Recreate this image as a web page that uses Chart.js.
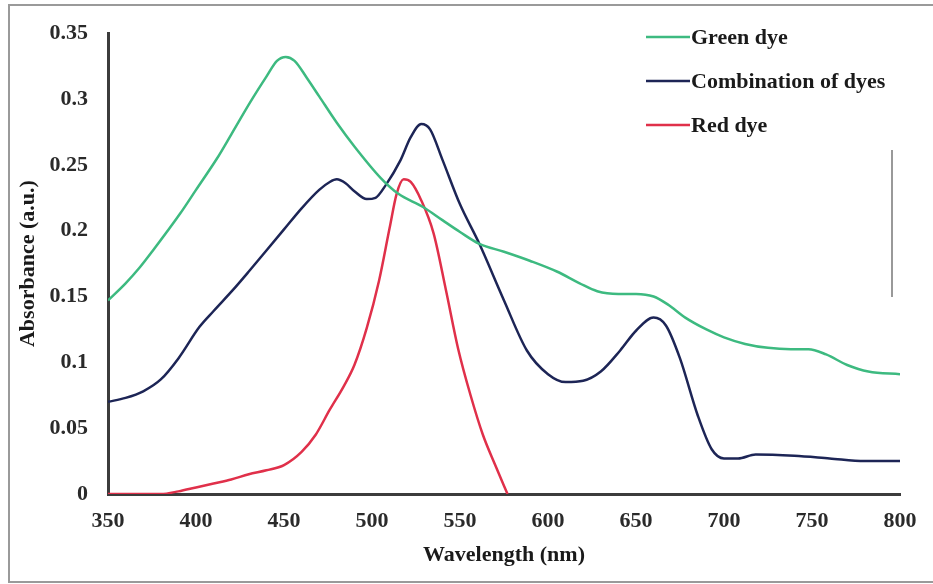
<!DOCTYPE html>
<html>
<head>
<meta charset="utf-8">
<title>Absorbance spectra</title>
<script src="https://cdn.jsdelivr.net/npm/chart.js@4.4.0/dist/chart.umd.min.js"></script>
<style>
  html, body { margin: 0; padding: 0; background: #fff; }
  #wrap { width: 933px; height: 584px; }
</style>
</head>
<body>
<div id="wrap"><canvas id="spectra" width="933" height="584"></canvas></div>
<script>
'use strict';

// values (wavelength in nm, absorbance in a.u.)
var seriesNames = ['Green dye', 'Combination of dyes', 'Red dye'];

var greenWl = [350, 360, 368, 375, 391, 400, 412, 420, 431, 440, 446, 451, 456, 463, 470, 480, 490, 505, 515, 529, 540,
  550, 561, 575, 590, 605, 618, 628, 640, 650, 660, 668, 678, 690, 700, 712, 725, 738, 748, 758, 770, 782, 800];
var greenAbs = [0.147, 0.160, 0.172, 0.184, 0.213, 0.231, 0.255, 0.273, 0.298, 0.317, 0.329, 0.332, 0.329, 0.316, 0.302, 0.282, 0.264, 0.240, 0.228, 0.218, 0.208,
  0.199, 0.190, 0.184, 0.177, 0.169, 0.160, 0.154, 0.152, 0.152, 0.150, 0.144, 0.134, 0.125, 0.119, 0.114, 0.111, 0.110, 0.110, 0.106, 0.098, 0.093, 0.091];

var comboWl = [350, 360, 370, 380, 390, 402, 410, 421, 430, 440, 450, 460, 470, 476, 480, 485, 490, 497, 502, 508, 516, 522, 528, 533, 540,
  550, 561, 575, 588, 600, 610, 620, 630, 641, 650, 660, 667, 675, 685, 693, 700, 708, 718, 740, 760, 780, 800];
var comboAbs = [0.070, 0.073, 0.078, 0.087, 0.103, 0.127, 0.139, 0.155, 0.169, 0.185, 0.201, 0.217, 0.231, 0.237, 0.239, 0.236, 0.230, 0.224, 0.225, 0.235, 0.253, 0.271, 0.281, 0.277, 0.254,
  0.220, 0.190, 0.147, 0.109, 0.091, 0.085, 0.086, 0.093, 0.109, 0.124, 0.134, 0.128, 0.103, 0.060, 0.034, 0.027, 0.027, 0.030, 0.029, 0.027, 0.025, 0.025];

var redWl = [350, 380, 390, 400, 410, 420, 430, 440, 450, 460, 468, 476, 484, 490, 497, 504, 510, 514, 518, 522, 528, 535, 542, 549, 556, 563, 570, 577];
var redAbs = [0, 0, 0.002, 0.005, 0.008, 0.011, 0.015, 0.018, 0.022, 0.032, 0.045, 0.064, 0.082, 0.098, 0.126, 0.162, 0.202, 0.228, 0.239, 0.237, 0.223, 0.198, 0.155, 0.110, 0.075, 0.045, 0.022, 0];

var xTicks = [350, 400, 450, 500, 550, 600, 650, 700, 750, 800];
var yTicks = [0, 0.05, 0.1, 0.15, 0.2, 0.25, 0.3, 0.35];

var serif = '"Liberation Serif", "Times New Roman", serif';

function toPoints(wl, abs) {
  return wl.map(function (w, i) { return { x: w, y: abs[i] }; });
}

// frame around the figure + a small leftover mark on the right
var framePlugin = {
  id: 'frame',
  beforeDraw: function (chart) {
    var ctx = chart.ctx;
    ctx.save();
    ctx.strokeStyle = '#9a9a9a';
    ctx.lineWidth = 2;
    ctx.beginPath();
    ctx.moveTo(933, 5);
    ctx.lineTo(9, 5);
    ctx.lineTo(9, 582);
    ctx.lineTo(933, 582);
    ctx.stroke();
    ctx.strokeStyle = '#777';
    ctx.lineWidth = 1.5;
    ctx.beginPath();
    ctx.moveTo(892, 150);
    ctx.lineTo(892, 297);
    ctx.stroke();
    ctx.restore();
  }
};

// legend drawn inside the plot, top right
var insideLegend = {
  id: 'insideLegend',
  afterDraw: function (chart) {
    var ctx = chart.ctx;
    ctx.save();
    ctx.font = 'bold 22px ' + serif;
    ctx.textBaseline = 'middle';
    chart.data.datasets.forEach(function (ds, i) {
      var y = 37 + i * 44;
      ctx.strokeStyle = ds.borderColor;
      ctx.lineWidth = 2.5;
      ctx.beginPath();
      ctx.moveTo(646, y);
      ctx.lineTo(690, y);
      ctx.stroke();
      ctx.fillStyle = '#1a1a1a';
      ctx.fillText(ds.label, 691, y + 1);
    });
    ctx.restore();
  }
};

var ctx = document.getElementById('spectra').getContext('2d');
var spectraChart = new Chart(ctx, {
  type: 'line',
  data: {
    datasets: [{
      label: seriesNames[0],
      data: toPoints(greenWl, greenAbs),
      borderColor: '#3dba80'
    }, {
      label: seriesNames[1],
      data: toPoints(comboWl, comboAbs),
      borderColor: '#1d2556'
    }, {
      label: seriesNames[2],
      data: toPoints(redWl, redAbs),
      borderColor: '#e0304a'
    }]
  },
  options: {
    responsive: false,
    animation: false,
    devicePixelRatio: 1,
    layout: { padding: { left: 11, top: 32, right: 33, bottom: 11 } },
    elements: {
      point: { radius: 0 },
      line: { borderWidth: 2.5, cubicInterpolationMode: 'monotone', fill: false }
    },
    plugins: {
      legend: { display: false },
      tooltip: { enabled: false }
    },
    scales: {
      x: {
        type: 'linear',
        min: xTicks[0],
        max: xTicks[xTicks.length - 1],
        afterBuildTicks: function (axis) {
          axis.ticks = xTicks.map(function (v) { return { value: v }; });
        },
        afterFit: function (axis) { axis.height = 79; },
        grid: { display: false, drawTicks: false },
        border: { display: true, color: '#3c3c3c', width: 3 },
        ticks: {
          padding: 14,
          color: '#2a2a2a',
          font: { family: serif, size: 22, weight: 'bold' },
          maxRotation: 0
        },
        title: {
          display: true,
          text: 'Wavelength (nm)',
          color: '#1a1a1a',
          font: { family: serif, size: 22, weight: 'bold' }
        }
      },
      y: {
        min: yTicks[0],
        max: yTicks[yTicks.length - 1],
        afterBuildTicks: function (axis) {
          axis.ticks = yTicks.map(function (v) { return { value: v }; });
        },
        afterFit: function (axis) { axis.width = 97; },
        grid: { display: false, drawTicks: false },
        border: { display: true, color: '#3c3c3c', width: 3 },
        ticks: {
          padding: 20,
          color: '#2a2a2a',
          font: { family: serif, size: 22, weight: 'bold' },
          callback: function (v) { return String(parseFloat(Number(v).toFixed(2))); }
        },
        title: {
          display: true,
          text: 'Absorbance (a.u.)',
          color: '#1a1a1a',
          font: { family: serif, size: 22, weight: 'bold' }
        }
      }
    }
  },
  plugins: [framePlugin, insideLegend]
});
</script>
</body>
</html>
